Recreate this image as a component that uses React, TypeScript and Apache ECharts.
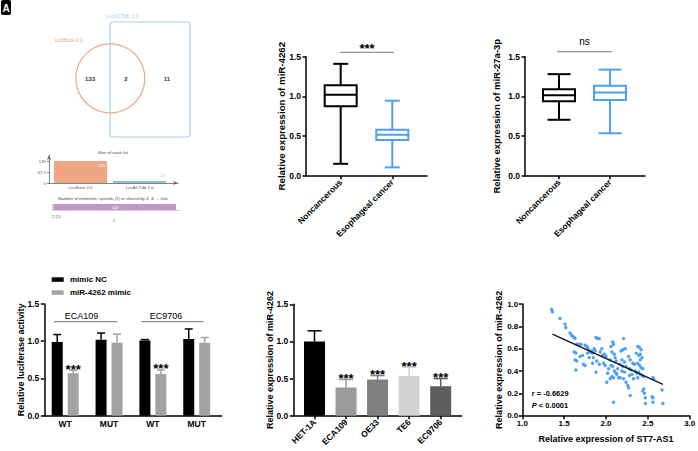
import React, { useEffect, useRef } from 'react';
import * as echarts from 'echarts';

const FONT = '"Liberation Sans", Arial, Helvetica, sans-serif';
const AX = '#000000';

// Venn diagram of the two lncRNA databases
const vennSetNames = ['LncBook 2.0', 'LncACTdb 3.0'];
const vennRegionCounts = [133, 2, 11]; // LncBook only, shared, LncACTdb only
const listSizes = [135, 13];
const listSizeTicks = [0, 67.5, 135];
const elementClassCounts = [2, 144]; // shared by 2 lists, specific to 1 list
const elementClassLabels = ['2 (2)', '1'];

// Tissue expression, box = [min, Q1, median, Q3, max]
const tissueGroups = ['Noncancerous', 'Esophageal cancer'];
const mir4262Box = [
  [0.15, 0.875, 1.02, 1.14, 1.41],
  [0.105, 0.45, 0.517, 0.58, 0.945],
];
const mir27aBox = [
  [0.705, 0.94, 1.014, 1.09, 1.28],
  [0.535, 0.955, 1.05, 1.135, 1.337],
];

// Dual-luciferase reporter assay
const lucCategories = ['WT', 'MUT', 'WT', 'MUT'];
const lucCellLines = ['ECA109', 'EC9706'];
const lucSeriesNames = ['mimic NC', 'miR-4262 mimic'];
const lucMimicNC = [0.99, 1.02, 1.01, 1.03];
const lucMimicNCErr = [0.1, 0.09, 0.012, 0.135];
const lucMir4262 = [0.57, 0.98, 0.56, 0.98];
const lucMir4262Err = [0.04, 0.115, 0.055, 0.07];
const lucSig = ['***', '', '***', ''];

// miR-4262 in cell lines
const cellLines = ['HET-1A', 'ECA109', 'OE33', 'TE6', 'EC9706'];
const cellMir4262 = [1.0, 0.38, 0.487, 0.535, 0.397];
const cellMir4262Err = [0.143, 0.107, 0.053, 0.117, 0.103];
const cellSig = ['', '***', '***', '***', '***'];

// ST7-AS1 vs miR-4262 in tumour samples
const correlationPoints = [
  [1.35, 0.95], [1.36, 0.93], [1.45, 0.87], [1.51, 0.82], [1.52, 0.79],
  [1.57, 0.74], [1.59, 0.72], [1.6, 0.71], [1.62, 0.7], [1.63, 0.69],
  [1.65, 0.64], [1.67, 0.64], [1.7, 0.64], [1.62, 0.57], [1.64, 0.56],
  [1.63, 0.5], [1.65, 0.49], [1.64, 0.41], [1.69, 0.53], [1.72, 0.54],
  [1.73, 0.46], [1.75, 0.45], [1.75, 0.63], [1.77, 0.62], [1.78, 0.61],
  [1.79, 0.59], [1.81, 0.57], [1.83, 0.58], [1.84, 0.56], [1.78, 0.56],
  [1.8, 0.52], [1.85, 0.52], [1.86, 0.6], [1.87, 0.58], [1.88, 0.39],
  [1.84, 0.47], [1.89, 0.49], [1.88, 0.7], [1.9, 0.69], [1.92, 0.69],
  [1.93, 0.57], [1.95, 0.6], [1.96, 0.54], [1.98, 0.55], [1.97, 0.47],
  [1.92, 0.46], [1.99, 0.45], [2.0, 0.53], [2.01, 0.3], [2.03, 0.42],
  [2.02, 0.38], [2.06, 0.62], [2.08, 0.66], [2.09, 0.64], [2.07, 0.57],
  [2.1, 0.55], [2.05, 0.5], [2.11, 0.52], [2.12, 0.49], [2.06, 0.45],
  [2.08, 0.44], [2.1, 0.4], [2.12, 0.38], [2.07, 0.35], [2.09, 0.34],
  [2.13, 0.37], [2.14, 0.42], [2.15, 0.34], [2.09, 0.12], [2.05, 0.33],
  [2.21, 0.69], [2.18, 0.58], [2.2, 0.59], [2.23, 0.6], [2.19, 0.5],
  [2.22, 0.48], [2.17, 0.46], [2.2, 0.44], [2.24, 0.44], [2.19, 0.4],
  [2.22, 0.39], [2.17, 0.34], [2.21, 0.33], [2.24, 0.3], [2.26, 0.27],
  [2.27, 0.25], [2.29, 0.18], [2.27, 0.53], [2.29, 0.5], [2.28, 0.42],
  [2.3, 0.41], [2.28, 0.36], [2.31, 0.37], [2.32, 0.47], [2.34, 0.46],
  [2.35, 0.4], [2.37, 0.38], [2.36, 0.56], [2.38, 0.62], [2.4, 0.61],
  [2.42, 0.59], [2.41, 0.55], [2.39, 0.54], [2.43, 0.52], [2.41, 0.5],
  [2.38, 0.47], [2.4, 0.45], [2.42, 0.43], [2.44, 0.42], [2.39, 0.39],
  [2.41, 0.37], [2.43, 0.36], [2.38, 0.34], [2.45, 0.35], [2.33, 0.33],
  [2.45, 0.24], [2.46, 0.2], [2.44, 0.22], [2.47, 0.16], [2.47, 0.11],
  [2.55, 0.17], [2.56, 0.16], [2.56, 0.12], [2.56, 0.34], [2.57, 0.33],
  [2.67, 0.23], [2.68, 0.11],
];
const fitLine = [[1.36, 0.731], [2.68, 0.281]];
const corrR = 'r = -0.6629';
const corrP = '< 0.0001';

const BLUE = '#4e9ff5';
const lucColors = ['#000000', '#a3a3a3'];
const cellColors = ['#000000', '#9b9b9b', '#7f7f7f', '#d3d3d3', '#5e5e5e'];
const boxColors = ['#000000', BLUE];

function txt(text: string, x: number, y: number, s: any) {
  const align = s.align || 'left';
  const va = s.verticalAlign || 'middle';
  return {
    type: 'text', x, y, silent: true,
    style: {
      text, fill: s.fill || '#000', fontFamily: FONT, fontSize: s.fontSize || 9,
      fontWeight: s.fontWeight || 'normal', fontStyle: s.fontStyle || 'normal',
      align, textAlign: align, verticalAlign: va, textVerticalAlign: va,
      rich: s.rich,
    },
  };
}
function hline(x1: number, x2: number, y: number, stroke: string, w = 1) {
  return { type: 'line', silent: true, shape: { x1, y1: y, x2, y2: y }, style: { stroke, lineWidth: w } };
}

function valueY(gridIndex: number, max: number, interval: number, name: string, nameGap: number, nameSize = 9) {
  return {
    type: 'value', gridIndex, min: 0, max, interval,
    name, nameLocation: 'middle', nameGap, nameRotate: 90, nameMoveOverlap: false,
    nameTextStyle: { fontFamily: FONT, fontSize: nameSize, fontWeight: 'bold', color: AX },
    axisLine: { show: true, onZero: false, lineStyle: { color: AX, width: 1.5 } },
    axisTick: { show: true, length: 3.5, lineStyle: { color: AX, width: 1.5 } },
    axisLabel: {
      margin: 5, fontFamily: FONT, fontSize: 8.5, fontWeight: 'bold', color: AX,
      formatter: (v: number) => v.toFixed(1),
    },
    splitLine: { show: false },
  };
}

function slotX(gridIndex: number, min: number, max: number, labels: string[], rotate: number, ticks: boolean) {
  const pos = labels.map((_, i) => i + 1);
  return {
    type: 'value', gridIndex, min, max,
    axisLine: { show: true, onZero: false, lineStyle: { color: AX, width: 1.5 } },
    axisTick: { show: ticks, customValues: pos, length: 3.5, lineStyle: { color: AX, width: 1.5 } },
    axisLabel: {
      customValues: pos, rotate, margin: rotate ? 5 : 4,
      fontFamily: FONT, fontSize: 8.5, fontWeight: 'bold', color: AX,
      formatter: (v: number) => labels[Math.round(v) - 1] ?? '',
    },
    splitLine: { show: false },
  };
}

function boxSeries(axisIndex: number, rows: number[][], capHalf: number) {
  return {
    type: 'custom', xAxisIndex: axisIndex, yAxisIndex: axisIndex,
    data: rows.map((r, i) => [i + 1, ...r]),
    encode: { x: 0, y: [1, 2, 3, 4, 5] },
    renderItem: (params: any, api: any) => {
      const x = api.value(0);
      const cx = api.coord([x, api.value(3)])[0];
      const yv = [1, 2, 3, 4, 5].map((d) => api.coord([x, api.value(d)])[1]);
      const [yMin, yQ1, yMed, yQ3, yMax] = yv;
      const color = boxColors[params.dataIndex];
      const half = 16;
      const ls = { stroke: color, lineWidth: 2, fill: null };
      return {
        type: 'group',
        children: [
          { type: 'line', shape: { x1: cx, y1: yMax, x2: cx, y2: yQ3 }, style: ls },
          { type: 'line', shape: { x1: cx, y1: yQ1, x2: cx, y2: yMin }, style: ls },
          { type: 'line', shape: { x1: cx - capHalf, y1: yMax, x2: cx + capHalf, y2: yMax }, style: ls },
          { type: 'line', shape: { x1: cx - capHalf, y1: yMin, x2: cx + capHalf, y2: yMin }, style: ls },
          { type: 'rect', shape: { x: cx - half, y: yQ3, width: half * 2, height: yQ1 - yQ3 }, style: { stroke: color, lineWidth: 2, fill: '#fff' } },
          { type: 'line', shape: { x1: cx - half, y1: yMed, x2: cx + half, y2: yMed }, style: ls },
        ],
      };
    },
  };
}

function errorSeries(axisIndex: number, means: number[], errs: number[], colors: string[], dx: number, capHalf: number, stars: string[]) {
  return {
    type: 'custom', xAxisIndex: axisIndex, yAxisIndex: axisIndex, z: 3,
    data: means.map((m, i) => [i + 1, m, m + errs[i]]),
    encode: { x: 0, y: [1, 2] },
    renderItem: (params: any, api: any) => {
      const x = api.value(0);
      const base = api.coord([x, api.value(1)]);
      const top = api.coord([x, api.value(2)])[1];
      const cx = base[0] + dx;
      const color = colors[params.dataIndex % colors.length];
      const ls = { stroke: color, lineWidth: 1.5, fill: null };
      const children: any[] = [
        { type: 'line', shape: { x1: cx, y1: base[1], x2: cx, y2: top }, style: ls },
        { type: 'line', shape: { x1: cx - capHalf, y1: top, x2: cx + capHalf, y2: top }, style: ls },
      ];
      const s = stars[params.dataIndex];
      if (s) {
        children.push({
          type: 'text', x: cx, y: top - 1,
          style: {
            text: s, fill: '#000', fontFamily: FONT, fontSize: 13, fontWeight: 'bold',
            align: 'center', textAlign: 'center', verticalAlign: 'middle', textVerticalAlign: 'middle',
          },
        });
      }
      return { type: 'group', children };
    },
  };
}

function buildOption(): any {
  const grids = [
    { left: 49, top: 155, width: 129, height: 28 },
    { left: 52, top: 204, width: 128.3, height: 6 },
    { left: 306, top: 56.7, width: 121, height: 119 },
    { left: 525, top: 56.7, width: 120, height: 119 },
    { left: 44.3, top: 304, width: 177.4, height: 111.7 },
    { left: 293.3, top: 304.3, width: 168.4, height: 111.4 },
    { left: 522.3, top: 304, width: 167.4, height: 111.7 },
  ].map((g) => ({ ...g, outerBoundsMode: 'none', containLabel: false }));

  const miniLine = { color: '#666', width: 0.8 };
  const xAxis: any[] = [
    {
      type: 'value', gridIndex: 0, min: 0.466, max: 2.65,
      axisLine: { show: true, onZero: false, symbol: ['none', 'arrow'], symbolSize: [3, 5], lineStyle: miniLine },
      axisTick: { show: false },
      axisLabel: {
        customValues: [1, 2], margin: 2, fontFamily: FONT, fontSize: 4.3, color: '#555',
        formatter: (v: number) => vennSetNames[Math.round(v) - 1] ?? '',
      },
      splitLine: { show: false },
    },
    {
      type: 'value', gridIndex: 1, min: 0, max: 151,
      axisLine: { show: true, onZero: false, lineStyle: { color: '#c4c4c4', width: 0.8 } },
      axisTick: { show: false }, axisLabel: { show: false }, splitLine: { show: false },
    },
    slotX(2, 0.328, 2.672, tissueGroups, 45, true),
    slotX(3, 0.333, 2.686, tissueGroups, 45, true),
    slotX(4, 0.523, 4.57, lucCategories, 0, false),
    slotX(5, 0.328, 5.666, cellLines, 45, true),
    {
      type: 'value', gridIndex: 6, min: 1, max: 3, interval: 0.5,
      name: 'Relative expression of ST7-AS1', nameLocation: 'middle', nameGap: 19, nameMoveOverlap: false,
      nameTextStyle: { fontFamily: FONT, fontSize: 9, fontWeight: 'bold', color: AX },
      axisLine: { show: true, onZero: false, lineStyle: { color: AX, width: 1.5 } },
      axisTick: { show: true, length: 3.5, lineStyle: { color: AX, width: 1.5 } },
      axisLabel: { margin: 4, fontFamily: FONT, fontSize: 8, fontWeight: 'bold', color: AX, formatter: (v: number) => v.toFixed(1) },
      splitLine: { show: false },
    },
  ];
  const yAxis: any[] = [
    {
      type: 'value', gridIndex: 0, min: 0, max: 172,
      axisLine: { show: true, onZero: false, symbol: ['none', 'arrow'], symbolSize: [3, 5], lineStyle: miniLine },
      axisTick: { show: true, customValues: listSizeTicks, length: 2, lineStyle: miniLine },
      axisLabel: { customValues: listSizeTicks, margin: 3, fontFamily: FONT, fontSize: 4.3, color: '#555' },
      splitLine: { show: false },
    },
    { type: 'category', gridIndex: 1, data: ['n'], show: false },
    valueY(2, 1.5, 0.5, 'Relative expression of miR-4262', 19.5, 9.7),
    valueY(3, 1.5, 0.5, 'Relative expression of miR-27a-3p', 23.5, 9.5),
    valueY(4, 1.5, 0.5, 'Relative luciferase activity', 19),
    valueY(5, 1.5, 0.5, 'Relative expression of miR-4262', 19),
    { ...valueY(6, 1, 0.2, 'Relative expression of miR-4262', 18.6), axisLabel: { margin: 4, fontFamily: FONT, fontSize: 8, fontWeight: 'bold', color: AX, formatter: (v: number) => v.toFixed(1) } },
  ];

  const series: any[] = [
    {
      type: 'bar', xAxisIndex: 0, yAxisIndex: 0, barWidth: 53,
      data: listSizes.map((v, i) => ({
        value: [i + 1, v],
        itemStyle: { color: ['#f0a585', '#8ebae4'][i] },
        label: i === 0
          ? { show: true, position: 'insideTopRight', distance: 2, color: '#fff' }
          : { show: true, position: 'top', distance: 3, offset: [23, 0], color: '#a9cdf0' },
      })),
      label: { fontFamily: FONT, fontSize: 4.3, formatter: (p: any) => String(p.value[1]) },
    },
    {
      type: 'bar', xAxisIndex: 1, yAxisIndex: 1, stack: 'cls', barWidth: 6,
      data: [elementClassCounts[0]], itemStyle: { color: '#cfcfcf' },
    },
    {
      type: 'bar', xAxisIndex: 1, yAxisIndex: 1, stack: 'cls', barWidth: 6,
      data: [elementClassCounts[1]], itemStyle: { color: '#bf98c6' },
      label: { show: true, position: 'inside', color: '#fff', fontFamily: FONT, fontSize: 4.3 },
    },
    boxSeries(2, mir4262Box, 7.5),
    boxSeries(3, mir27aBox, 11.5),
    {
      name: lucSeriesNames[0], type: 'bar', xAxisIndex: 4, yAxisIndex: 4, barWidth: 11, barGap: '45%',
      data: lucMimicNC.map((v, i) => [i + 1, v]), itemStyle: { color: lucColors[0] },
    },
    {
      name: lucSeriesNames[1], type: 'bar', xAxisIndex: 4, yAxisIndex: 4, barWidth: 11, barGap: '45%',
      data: lucMir4262.map((v, i) => [i + 1, v]), itemStyle: { color: lucColors[1] },
    },
    errorSeries(4, lucMimicNC, lucMimicNCErr, [lucColors[0]], -7.975, 4, ['', '', '', '']),
    errorSeries(4, lucMir4262, lucMir4262Err, [lucColors[1]], 7.975, 4, lucSig),
    {
      type: 'bar', xAxisIndex: 5, yAxisIndex: 5, barWidth: 21,
      data: cellMir4262.map((v, i) => ({ value: [i + 1, v], itemStyle: { color: cellColors[i] } })),
    },
    errorSeries(5, cellMir4262, cellMir4262Err, cellColors, 0, 7, cellSig),
    {
      type: 'scatter', xAxisIndex: 6, yAxisIndex: 6, symbol: 'circle', symbolSize: 3.4,
      data: correlationPoints, itemStyle: { color: BLUE, opacity: 1 },
    },
    {
      type: 'line', xAxisIndex: 6, yAxisIndex: 6, data: fitLine, showSymbol: false, symbol: 'none',
      lineStyle: { color: '#111', width: 1.3 }, z: 3,
    },
  ];

  const graphic: any[] = [
    // panel letter
    { type: 'rect', silent: true, shape: { x: 1, y: 0, width: 10, height: 15, r: 2 }, style: { fill: '#000' } },
    txt('A', 6, 8, { align: 'center', fill: '#fff', fontSize: 10, fontWeight: 'bold' }),
    // Venn shapes
    { type: 'rect', silent: true, shape: { x: 110, y: 22, width: 80, height: 115, r: 3 }, style: { fill: 'none', stroke: '#a9d0f0', lineWidth: 1.2 } },
    { type: 'circle', silent: true, shape: { cx: 110.3, cy: 78.3, r: 34.5 }, style: { fill: 'none', stroke: '#f2a68c', lineWidth: 1.2 } },
    txt(vennSetNames[0], 69, 40, { align: 'center', fill: '#f4a582', fontSize: 5 }),
    txt(vennSetNames[1], 122, 15.7, { align: 'center', fill: '#a6cdee', fontSize: 5 }),
    txt(String(vennRegionCounts[0]), 90, 78.5, { align: 'center', fill: '#333', fontSize: 6, fontWeight: 'bold' }),
    txt(String(vennRegionCounts[1]), 126, 78.5, { align: 'center', fill: '#333', fontSize: 6, fontWeight: 'bold' }),
    txt(String(vennRegionCounts[2]), 167, 78.5, { align: 'center', fill: '#333', fontSize: 6, fontWeight: 'bold' }),
    txt('Size of each list', 113, 152, { align: 'center', fill: '#444', fontSize: 4.3, fontStyle: 'italic' }),
    txt('Number of elements: specific (1) or shared by 2, 3, ... lists', 113, 198, { align: 'center', fill: '#444', fontSize: 4.3, fontStyle: 'italic' }),
    txt(elementClassLabels[0], 52, 216, { fill: '#555', fontSize: 4.3 }),
    txt(elementClassLabels[1], 114, 220, { align: 'center', fill: '#555', fontSize: 4.3 }),
    // tissue comparisons
    hline(340, 394, 52.3, '#7a7a7a', 1),
    txt('***', 367, 48, { align: 'center', fontSize: 13, fontWeight: 'bold' }),
    hline(557, 612, 51.7, '#7a7a7a', 1),
    txt('ns', 584.5, 41.7, { align: 'center', fontSize: 10 }),
    // luciferase legend and cell-line brackets
    { type: 'rect', silent: true, shape: { x: 51.7, y: 277.3, width: 12, height: 4.5 }, style: { fill: lucColors[0] } },
    txt(lucSeriesNames[0], 70, 279.7, { fontSize: 8, fontWeight: 'bold' }),
    { type: 'rect', silent: true, shape: { x: 51.7, y: 290.3, width: 12, height: 4.5 }, style: { fill: lucColors[1] } },
    txt(lucSeriesNames[1], 70, 292.7, { fontSize: 8, fontWeight: 'bold' }),
    hline(54, 117.3, 321.7, '#6e6e6e', 1),
    txt(lucCellLines[0], 81.5, 315.5, { align: 'center', fontSize: 9 }),
    hline(141.7, 203.3, 321.7, '#6e6e6e', 1),
    txt(lucCellLines[1], 166, 315.5, { align: 'center', fontSize: 9 }),
    // correlation statistics
    txt(corrR, 531.7, 393, { fontSize: 7.5, fontWeight: 'bold' }),
    txt('{i|P} ' + corrP, 531.7, 405.7, {
      fontSize: 7.5, fontWeight: 'bold',
      rich: { i: { fontStyle: 'italic', fontWeight: 'bold', fontSize: 7.5, fontFamily: FONT, fill: '#000', color: '#000' } },
    }),
  ];

  return {
    animation: false,
    backgroundColor: '#ffffff',
    textStyle: { fontFamily: FONT },
    grid: grids,
    xAxis,
    yAxis,
    series,
    graphic: { elements: graphic },
  };
}

export default function App() {
  const ref = useRef<HTMLDivElement>(null);
  useEffect(() => {
    if (!ref.current) return;
    const chart = echarts.init(ref.current, null, { renderer: 'svg' });
    chart.setOption(buildOption());
    return () => chart.dispose();
  }, []);
  return (
    <div
      ref={ref}
      style={{ position: 'fixed', left: 0, top: 0, width: 698, height: 451, background: '#fff' }}
    />
  );
}
